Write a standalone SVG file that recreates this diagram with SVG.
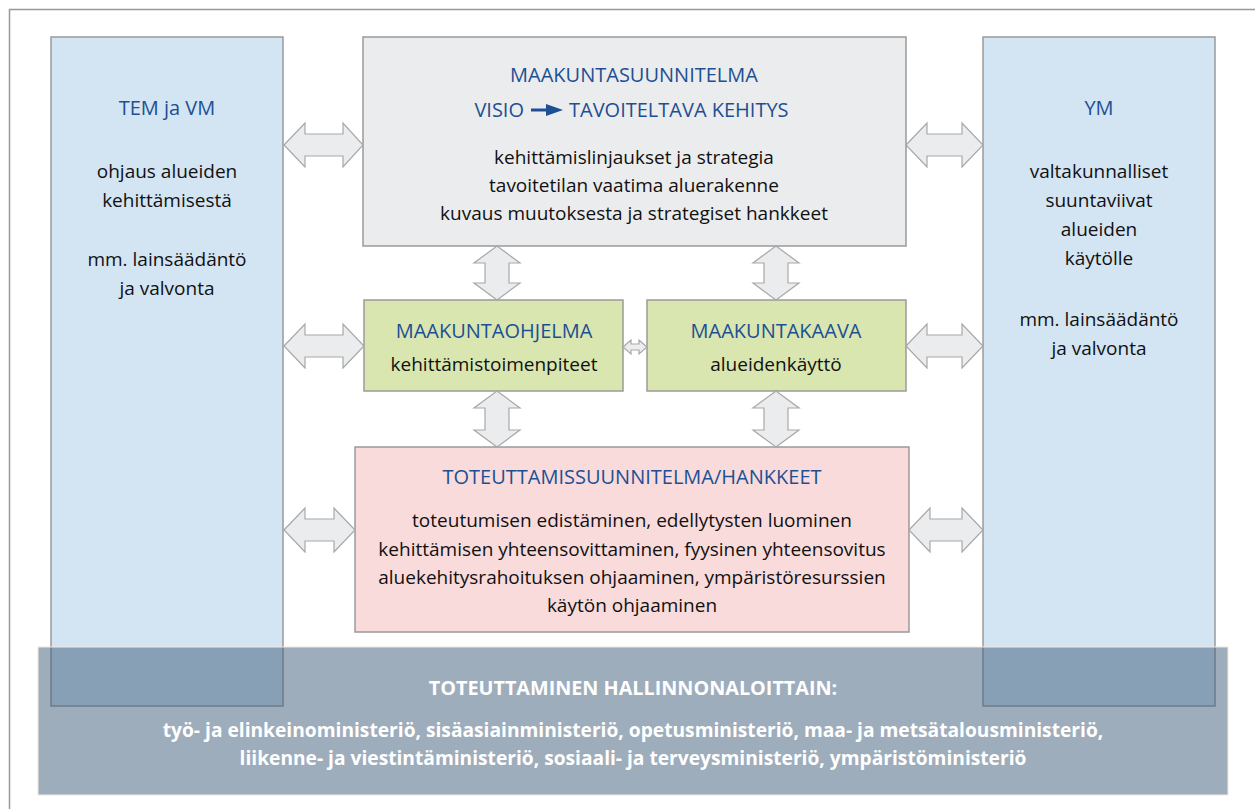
<svg xmlns="http://www.w3.org/2000/svg" width="1255" height="809" viewBox="0 0 1255 809">
<style>
.box{stroke:#9a9a9a;stroke-width:1.5}
.side{fill:#d3e4f3}
.gray{fill:#ebeced}
.green{fill:#d9e6b0}
.pink{fill:#f9dbdb}
.arr{fill:#ebeced;stroke:#a8a8a8;stroke-width:1.2}
.t{font-family:"Open Sans","Noto Sans","Liberation Sans",sans-serif;font-size:19px;text-anchor:middle;fill:#111}
.h{fill:#1d4f94;font-size:20px}
.w{fill:#ffffff;font-weight:bold;font-size:19.2px}
</style>
<rect width="1255" height="809" fill="#ffffff"/>
<path d="M9.5,809 V9.5 H1255" fill="none" stroke="#999" stroke-width="1.5"/>

<g id="tem-vm">
<rect class="box side" x="51" y="37" width="232" height="669"/>
<text class="t h" x="167" y="115">TEM ja VM</text>
<text class="t" x="167" y="178">ohjaus alueiden</text>
<text class="t" x="167" y="207">kehittämisestä</text>
<text class="t" x="167" y="266">mm. lainsäädäntö</text>
<text class="t" x="167" y="295">ja valvonta</text>
</g>

<g id="ym">
<rect class="box side" x="983" y="37" width="232" height="669"/>
<text class="t h" x="1099" y="115">YM</text>
<text class="t" x="1099" y="178">valtakunnalliset</text>
<text class="t" x="1099" y="207">suuntaviivat</text>
<text class="t" x="1099" y="236">alueiden</text>
<text class="t" x="1099" y="265">käytölle</text>
<text class="t" x="1099" y="326">mm. lainsäädäntö</text>
<text class="t" x="1099" y="355">ja valvonta</text>
</g>

<g id="maakuntasuunnitelma">
<rect class="box gray" x="363" y="37" width="543" height="209"/>
<text class="t h" x="634" y="82">MAAKUNTASUUNNITELMA</text>
<text class="t h" x="524" y="117" style="text-anchor:end">VISIO</text>
<path d="M531,110 H548" stroke="#1d4f94" stroke-width="3"/>
<polygon points="546,104 563,110 546,116" fill="#1d4f94"/>
<text class="t h" x="569" y="117" style="text-anchor:start">TAVOITELTAVA KEHITYS</text>
<text class="t" x="634" y="164">kehittämislinjaukset ja strategia</text>
<text class="t" x="634" y="192">tavoitetilan vaatima aluerakenne</text>
<text class="t" x="634" y="220">kuvaus muutoksesta ja strategiset hankkeet</text>
</g>

<g id="maakuntaohjelma">
<rect class="box green" x="364" y="300" width="259" height="91"/>
<text class="t h" x="494" y="338">MAAKUNTAOHJELMA</text>
<text class="t" x="494" y="371">kehittämistoimenpiteet</text>
</g>

<g id="maakuntakaava">
<rect class="box green" x="647" y="300" width="259" height="91"/>
<text class="t h" x="776" y="338">MAAKUNTAKAAVA</text>
<text class="t" x="776" y="371">alueidenkäyttö</text>
</g>

<g id="toteuttamissuunnitelma">
<rect class="box pink" x="355" y="447" width="554" height="185"/>
<text class="t h" x="632" y="484">TOTEUTTAMISSUUNNITELMA/HANKKEET</text>
<text class="t" x="632" y="527">toteutumisen edistäminen, edellytysten luominen</text>
<text class="t" x="632" y="556">kehittämisen yhteensovittaminen, fyysinen yhteensovitus</text>
<text class="t" x="632" y="584">aluekehitysrahoituksen ohjaaminen, ympäristöresurssien</text>
<text class="t" x="632" y="612">käytön ohjaaminen</text>
</g>

<g id="connectors">
<path class="arr" d="M284,145 L305,123 V134 H343 V123 L363,145 L343,167 V156 H305 V167 Z"/>
<path class="arr" d="M284,346 L305,324 V335 H343 V324 L364,346 L343,368 V357 H305 V368 Z"/>
<path class="arr" d="M284,530 L305,508 V519 H334 V508 L355,530 L334,552 V541 H305 V552 Z"/>
<path class="arr" d="M906,145 L927,123 V134 H962 V123 L983,145 L962,167 V156 H927 V167 Z"/>
<path class="arr" d="M906,346 L927,324 V335 H962 V324 L983,346 L962,368 V357 H927 V368 Z"/>
<path class="arr" d="M909,530 L930,508 V519 H962 V508 L983,530 L962,552 V541 H930 V552 Z"/>
<path class="arr" d="M623,347 L631,340 V344 H639 V340 L647,347 L639,354 V350 H631 V354 Z"/>
<path class="arr" d="M497,246 L520,263 H509 V283 H520 L497,300 L474,283 H485 V263 H474 Z"/>
<path class="arr" d="M776,246 L799,263 H788 V283 H799 L776,300 L753,283 H764 V263 H753 Z"/>
<path class="arr" d="M497,391 L520,408 H509 V430 H520 L497,447 L474,430 H485 V408 H474 Z"/>
<path class="arr" d="M776,391 L799,408 H788 V430 H799 L776,447 L753,430 H764 V408 H753 Z"/>
</g>

<g id="toteuttaminen">
<rect x="38" y="647" width="1190" height="148" fill="#3d5b77" fill-opacity="0.5" stroke="#f3e6df" stroke-width="1"/>
<text class="t w" x="633" y="695" style="font-size:19.8px">TOTEUTTAMINEN HALLINNONALOITTAIN:</text>
<text class="t w" x="633" y="737">työ- ja elinkeinoministeriö, sisäasiainministeriö, opetusministeriö, maa- ja metsätalousministeriö,</text>
<text class="t w" x="633" y="765">liikenne- ja viestintäministeriö, sosiaali- ja terveysministeriö, ympäristöministeriö</text>
</g>
</svg>
